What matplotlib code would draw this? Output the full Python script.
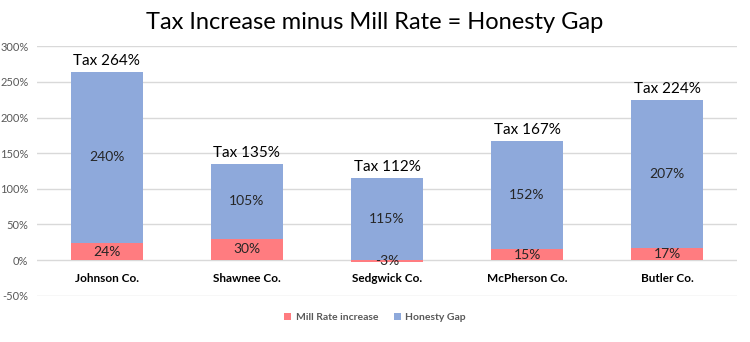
import numpy as np
import matplotlib.pyplot as plt

plt.rcParams['font.family'] = ['Lato', 'DejaVu Sans']

counties = ['Johnson Co.', 'Shawnee Co.', 'Sedgwick Co.', 'McPherson Co.', 'Butler Co.']
mill_rate = [24, 30, -3, 15, 17]
honesty_gap = [240, 105, 115, 152, 207]
tax_increase = [264, 135, 112, 167, 224]

RED = '#FF7C80'
BLUE = '#8EA9DB'

fig = plt.figure(figsize=(7.5, 3.42), dpi=100)
ax = fig.add_axes([0.049, 0.135, 0.934, 0.73])

x = np.arange(len(counties))
w = 0.51
mill = np.array(mill_rate)
gap = np.array(honesty_gap)
base = np.where(mill > 0, mill, 0)

ax.bar(x, mill, w, color=RED, label='Mill Rate increase', zorder=3)
ax.bar(x, gap, w, bottom=base, color=BLUE, label='Honesty Gap', zorder=3)

for i in range(len(x)):
    ax.text(x[i], mill[i] / 2, '%d%%' % mill[i], ha='center', va='center',
            fontsize=10, color='#262626', zorder=4)
    ax.text(x[i], base[i] + gap[i] / 2, '%d%%' % gap[i], ha='center', va='center',
            fontsize=10, color='#262626', zorder=4)
    ax.annotate('Tax %d%%' % tax_increase[i], (x[i], base[i] + gap[i]),
                xytext=(0, 3), textcoords='offset points', ha='center', va='bottom',
                fontsize=11, color='black')
    ax.annotate(counties[i], (x[i], 0), xytext=(0, -9), textcoords='offset points',
                ha='center', va='top', fontsize=8.5, fontweight='bold', color='black')

ax.set_xlim(-0.5, len(x) - 0.5)
ax.set_ylim(-50, 300)
ax.set_yticks(range(-50, 301, 50))
ax.set_yticklabels(['%d%%' % v for v in range(-50, 301, 50)])
ax.tick_params(axis='y', length=0, labelsize=8, labelcolor='#595959', pad=6)
ax.set_xticks([])
ax.grid(axis='y', color='#D9D9D9', linewidth=1, zorder=0)
for s in ax.spines.values():
    s.set_visible(False)

fig.suptitle('Tax Increase minus Mill Rate = Honesty Gap', fontsize=17, y=0.965)
fig.legend(loc='lower center', bbox_to_anchor=(0.5, 0.03), ncol=2, frameon=False,
           fontsize=7.5, handlelength=0.7, handleheight=0.7, columnspacing=1.5,
           handletextpad=0.4, labelcolor='#595959', prop={'weight': 'bold', 'size': 7.5})

fig.savefig('out.png', dpi=100)
